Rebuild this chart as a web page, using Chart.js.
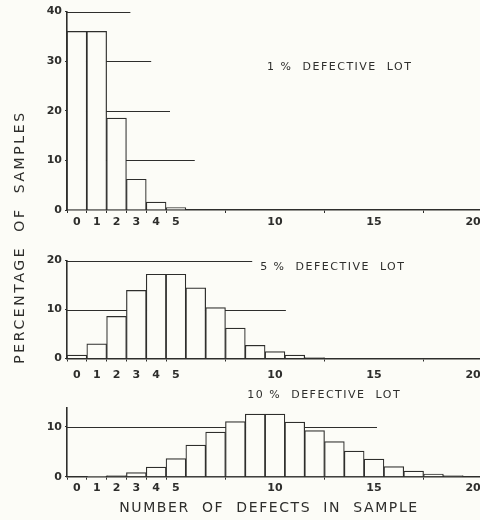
<!DOCTYPE html>
<html>
<head>
<meta charset="utf-8">
<script src="https://cdn.jsdelivr.net/npm/chart.js@4.4.1/dist/chart.umd.min.js"></script>
<style>
  html, body { margin: 0; padding: 0; background: #fcfcf7; overflow: hidden; }
  #wrap { position: relative; width: 480px; height: 520px; }
  #wrap canvas { position: absolute; left: 0; top: 0; }
</style>
</head>
<body>
<div id="wrap">
  <canvas id="lot1" width="480" height="520"></canvas>
  <canvas id="lot5" width="480" height="520"></canvas>
  <canvas id="lot10" width="480" height="520"></canvas>
</div>
<script>
// Percentage of samples by number of defects (index = defects in sample)
const lot1Values = [36, 36, 18.5, 6.2, 1.6, 0.5];
const lot5Values = [0.7, 3.0, 8.6, 13.9, 17.2, 17.2, 14.4, 10.4, 6.2, 2.7, 1.4, 0.7, 0.2];
const lot10Values = [0, 0.05, 0.2, 0.8, 1.9, 3.6, 6.3, 8.9, 11.0, 12.5, 12.5, 10.9, 9.2, 7.0, 5.1, 3.5, 2.0, 1.1, 0.5, 0.2, 0.1];

// tick labels
const xTicks = [0, 1, 2, 3, 4, 5, 10, 15, 20];
const yTicks1 = [0, 10, 20, 30, 40];
const yTicks5 = [0, 10, 20];
const yTicks10 = [0, 10];

// partial guide lines: level and where they end (in defects)
const guideLevels1 = [40, 30, 20, 10];
const guideEnds1 = [2.7, 3.75, 4.7, 5.95];
const guideLevels5 = [20, 10];
const guideEnds5 = [8.85, 10.55];
const guideLevels10 = [10];
const guideEnds10 = [15.15];

const titles = ['1 %  DEFECTIVE  LOT', '5 %  DEFECTIVE  LOT', '10 %  DEFECTIVE  LOT'];
const yTitle = 'PERCENTAGE  OF  SAMPLES';
const xTitle = 'NUMBER  OF  DEFECTS  IN  SAMPLE';

const INK = '#2e2e2c';
const PAPER = '#fcfcf7';
const FONT = "'DejaVu Sans', sans-serif";

// draws the guide lines behind the bars and the free text on top
const annotate = {
    id: 'annotate',
    beforeDatasetsDraw(chart, args, opts) {
        const { ctx, chartArea, scales: { x, y } } = chart;
        ctx.save();
        ctx.strokeStyle = INK;
        ctx.lineWidth = 1.2;
        (opts.levels || []).forEach((lv, i) => {
            const py = Math.round(y.getPixelForValue(lv)) + 0.5;
            ctx.beginPath();
            ctx.moveTo(chartArea.left, py);
            ctx.lineTo(x.getPixelForValue(opts.ends[i]), py);
            ctx.stroke();
        });
        ctx.restore();
    },
    afterDraw(chart, args, opts) {
        const { ctx, scales: { x, y } } = chart;
        ctx.save();
        ctx.fillStyle = INK;
        ctx.textBaseline = 'middle';
        if (opts.label) {
            ctx.font = '11px ' + FONT;
            ctx.letterSpacing = '1.5px';
            ctx.textAlign = 'left';
            ctx.fillText(opts.label.text, x.getPixelForValue(opts.label.x), y.getPixelForValue(opts.label.y));
        }
        (opts.free || []).forEach(t => {
            ctx.save();
            ctx.font = '14px ' + FONT;
            ctx.letterSpacing = t.spacing;
            ctx.textAlign = 'center';
            ctx.translate(t.px, t.py);
            ctx.rotate(t.rot || 0);
            ctx.fillText(t.text, 0, 0);
            ctx.restore();
        });
        ctx.restore();
    }
};

const makePanel = (id, values, yMax, yTicks, pad, tickPad, annot) => {
    return new Chart(document.getElementById(id), {
        type: 'bar',
        data: {
            datasets: [{
                data: values.map((v, i) => ({ x: i, y: v })),
                backgroundColor: PAPER,
                borderColor: INK,
                borderWidth: 1.2,
                barPercentage: 1,
                categoryPercentage: 1
            }]
        },
        options: {
            responsive: false,
            animation: false,
            layout: { padding: pad },
            plugins: {
                legend: { display: false },
                tooltip: { enabled: false },
                annotate: annot
            },
            scales: {
                x: {
                    type: 'linear',
                    offset: false,
                    min: -0.5,
                    max: 20.35,
                    afterBuildTicks: s => { s.ticks = xTicks.map(v => ({ value: v })); },
                    afterFit: s => { s.height = 30; s.paddingLeft = 0; s.paddingRight = 0; },
                    grid: { display: true, drawOnChartArea: false, tickLength: 3, color: INK, lineWidth: 1 },
                    border: { display: true, color: INK, width: 1.6 },
                    ticks: {
                        color: INK,
                        padding: tickPad,
                        maxRotation: 0,
                        autoSkip: false,
                        font: { family: FONT, size: 11, weight: 'bold' }
                    }
                },
                y: {
                    min: 0,
                    max: yMax,
                    afterBuildTicks: s => { s.ticks = yTicks.map(v => ({ value: v })); },
                    afterFit: s => { s.width = 67; s.paddingTop = 0; s.paddingBottom = 0; },
                    grid: { display: true, drawOnChartArea: false, tickLength: 2, color: INK },
                    border: { display: true, color: INK, width: 1.6 },
                    ticks: {
                        color: INK,
                        padding: 3,
                        font: { family: FONT, size: 11, weight: 'bold' }
                    }
                }
            }
        },
        plugins: [annotate]
    });
};

makePanel('lot1', lot1Values, 40, yTicks1,
    { top: 11.5, bottom: 280, left: 0, right: 0 }, 2.5,
    { levels: guideLevels1, ends: guideEnds1, label: { text: titles[0], x: 9.6, y: 28.8 } });

makePanel('lot5', lot5Values, 20, yTicks5,
    { top: 260.5, bottom: 131.5, left: 0, right: 0 }, 7,
    { levels: guideLevels5, ends: guideEnds5, label: { text: titles[1], x: 9.25, y: 18.7 } });

makePanel('lot10', lot10Values, 13.8, yTicks10,
    { top: 407.7, bottom: 13.3, left: 0, right: 0 }, 1.5,
    { levels: guideLevels10, ends: guideEnds10, label: { text: titles[2], x: 8.6, y: 16.3 },
      free: [
          { text: xTitle, px: 269, py: 508, spacing: '1.6px' },
          { text: yTitle, px: 20, py: 237, rot: -Math.PI / 2, spacing: '2.6px' }
      ] });
</script>
</body>
</html>
